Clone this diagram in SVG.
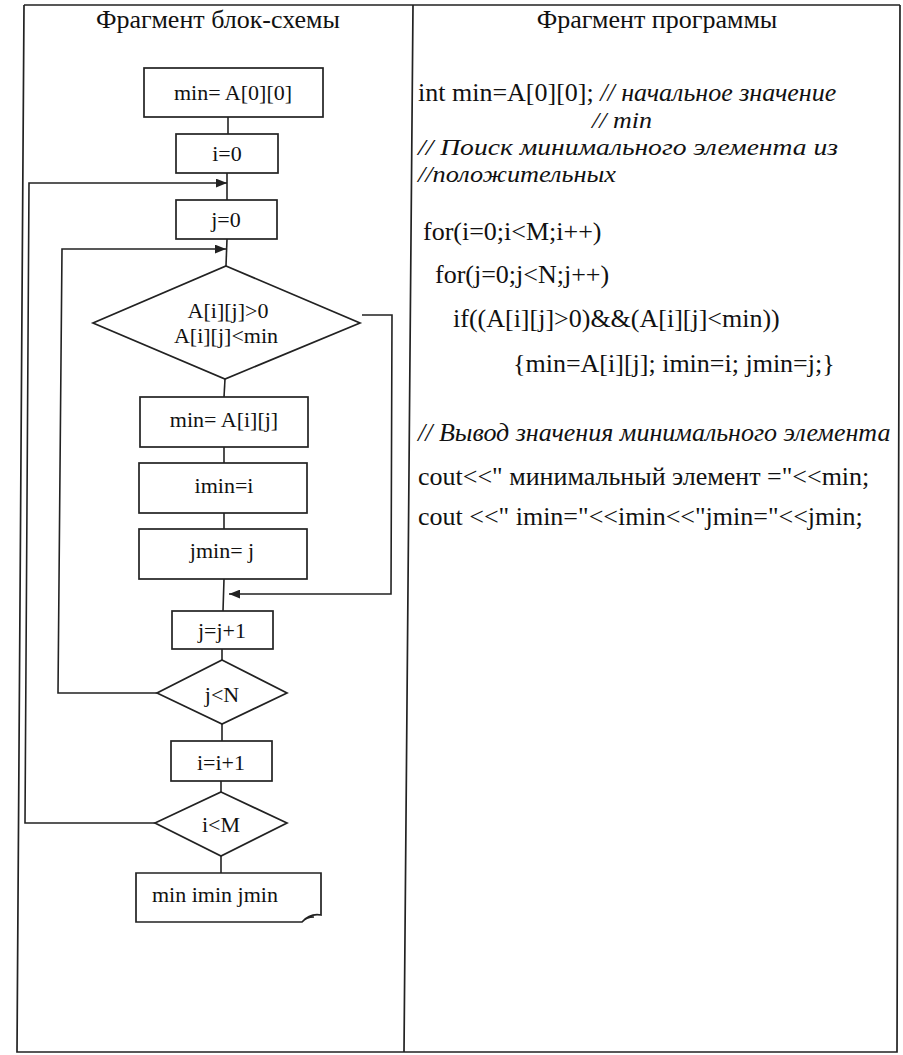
<svg xmlns="http://www.w3.org/2000/svg" width="903" height="1055" viewBox="0 0 903 1055">
<defs>
<marker id="arr" viewBox="0 0 10 8" refX="10" refY="4" markerWidth="11" markerHeight="9" markerUnits="userSpaceOnUse" orient="auto">
<path d="M0,0 L10,4 L0,8 Z" fill="#222"/>
</marker>
<style>
.frame{fill:none;stroke:#222;stroke-width:1.7}
.shape{fill:none;stroke:#222;stroke-width:1.7}
.conn{fill:none;stroke:#222;stroke-width:1.6}
.t{font-family:"Liberation Serif","Times New Roman",serif;font-size:22px;fill:#111}
.h{font-size:26px}
.p{font-size:26px}
.s{font-size:24px}
.c{text-anchor:middle}
.i{font-style:italic}
</style>
</defs>
<rect width="903" height="1055" fill="#fff"/>
<g id="table">
<path class="frame" d="M24,5 L900,5 M24,5 L17,1052 L897,1052 L900,5 M413,5 L404,1052"/>
<text class="t h c" x="218" y="28">Фрагмент блок-схемы</text>
<text class="t h c" x="657" y="28">Фрагмент программы</text>
</g>
<g id="connectors">
<line class="conn" x1="228" y1="117" x2="228" y2="134"/>
<line class="conn" x1="227" y1="173" x2="227" y2="200"/>
<line class="conn" x1="227" y1="239" x2="226" y2="266"/>
<line class="conn" x1="225" y1="379" x2="224" y2="397"/>
<line class="conn" x1="224" y1="447" x2="224" y2="463"/>
<line class="conn" x1="224" y1="513" x2="224" y2="529"/>
<line class="conn" x1="224" y1="579" x2="223" y2="611"/>
<line class="conn" x1="222" y1="649" x2="222" y2="660"/>
<line class="conn" x1="222" y1="724" x2="222" y2="741"/>
<line class="conn" x1="221" y1="781" x2="221" y2="792"/>
<line class="conn" x1="221" y1="856" x2="221" y2="873"/>
<polyline class="conn" points="155,823 25,823 29,183 227,183" marker-end="url(#arr)"/>
<polyline class="conn" points="157,693 58,693 62,249 226,249" marker-end="url(#arr)"/>
<polyline class="conn" points="362,315 392,315 391,594 229,594" marker-end="url(#arr)"/>
</g>
<g id="n1"><rect class="shape" x="144" y="68" width="179" height="49"/><text class="t c" x="233" y="100">min= A[0][0]</text></g>
<g id="n2"><rect class="shape" x="176" y="134" width="102" height="39"/><text class="t c" x="227" y="161">i=0</text></g>
<g id="n3"><rect class="shape" x="176" y="200" width="101" height="39"/><text class="t c" x="226" y="227">j=0</text></g>
<g id="n4"><polygon class="shape" points="226,266 360,323 225,379 93,323"/><text class="t c" x="228" y="318">A[i][j]&gt;0</text><text class="t c" x="226" y="343">A[i][j]&lt;min</text></g>
<g id="n5"><rect class="shape" x="140" y="397" width="168" height="50"/><text class="t c" x="224" y="427">min= A[i][j]</text></g>
<g id="n6"><rect class="shape" x="139" y="463" width="168" height="50"/><text class="t c" x="224" y="493">imin=i</text></g>
<g id="n7"><rect class="shape" x="139" y="529" width="168" height="50"/><text class="t c" x="222" y="558">jmin= j</text></g>
<g id="n8"><rect class="shape" x="172" y="611" width="101" height="38"/><text class="t c" x="222" y="638">j=j+1</text></g>
<g id="n9"><polygon class="shape" points="222,660 287,693 222,724 157,693"/><text class="t c" x="222" y="702">j&lt;N</text></g>
<g id="n10"><rect class="shape" x="171" y="741" width="101" height="40"/><text class="t c" x="221" y="770">i=i+1</text></g>
<g id="n11"><polygon class="shape" points="221,792 287,823 221,856 155,823"/><text class="t c" x="221" y="832">i&lt;M</text></g>
<g id="n12"><path class="shape" d="M136,873 L321,873 L321,915 Q310,913 302,922 L136,922 Z M302,922 Q306,917 314,917"/><text class="t" x="152" y="902">min imin jmin</text></g>
<g id="code">
<text class="t p" x="418" y="101">int min=A[0][0]; <tspan class="i">// начальное значение</tspan></text>
<text class="t s i" x="592" y="128" textLength="60" lengthAdjust="spacingAndGlyphs">// min</text>
<text class="t s i" x="418" y="155" textLength="420" lengthAdjust="spacingAndGlyphs">// Поиск минимального элемента из</text>
<text class="t s i" x="418" y="182" textLength="198" lengthAdjust="spacingAndGlyphs">//положительных</text>
<text class="t p" x="423" y="240">for(i=0;i&lt;M;i++)</text>
<text class="t p" x="435" y="283">for(j=0;j&lt;N;j++)</text>
<text class="t p" x="453" y="327">if((A[i][j]&gt;0)&amp;&amp;(A[i][j]&lt;min))</text>
<text class="t p" x="513" y="372">{min=A[i][j]; imin=i; jmin=j;}</text>
<text class="t p i" x="418" y="441">// Вывод значения минимального элемента</text>
<text class="t p" x="418" y="485">cout&lt;&lt;" минимальный элемент ="&lt;&lt;min;</text>
<text class="t p" x="418" y="525">cout &lt;&lt;" imin="&lt;&lt;imin&lt;&lt;"jmin="&lt;&lt;jmin;</text>
</g>
</svg>
